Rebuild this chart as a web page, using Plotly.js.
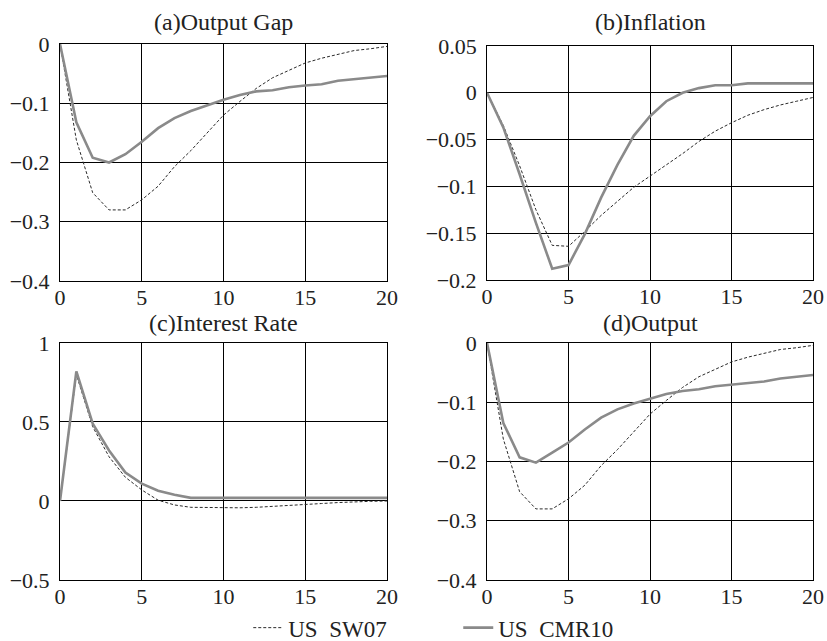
<!DOCTYPE html>
<html>
<head>
<meta charset="utf-8">
<script src="https://cdn.plot.ly/plotly-3.0.1.min.js"></script>
<style>
  html, body { margin: 0; padding: 0; background: #fff; }
  #chart { width: 827px; height: 641px; }
</style>
</head>
<body>
<div id="chart"></div>
<script>
// Impulse responses over 20 quarters, two model estimates
const horizon = [0,1,2,3,4,5,6,7,8,9,10,11,12,13,14,15,16,17,18,19,20];

const gapSW07   = [0,-0.162,-0.251,-0.280,-0.280,-0.263,-0.240,-0.207,-0.180,-0.150,-0.120,-0.097,-0.075,-0.057,-0.044,-0.032,-0.024,-0.017,-0.011,-0.008,-0.004];
const gapCMR10  = [0,-0.132,-0.192,-0.200,-0.186,-0.165,-0.142,-0.125,-0.113,-0.103,-0.094,-0.086,-0.080,-0.078,-0.073,-0.070,-0.068,-0.062,-0.059,-0.056,-0.054];

const inflSW07  = [0,-0.035,-0.078,-0.125,-0.163,-0.164,-0.148,-0.131,-0.116,-0.101,-0.089,-0.077,-0.065,-0.052,-0.041,-0.032,-0.024,-0.018,-0.013,-0.009,-0.005];
const inflCMR10 = [0,-0.037,-0.087,-0.139,-0.188,-0.184,-0.151,-0.112,-0.077,-0.046,-0.025,-0.009,0,0.005,0.008,0.008,0.010,0.010,0.010,0.010,0.010];

const rateSW07  = [0,0.80,0.47,0.28,0.15,0.07,0.005,-0.025,-0.040,-0.042,-0.043,-0.043,-0.040,-0.035,-0.030,-0.022,-0.016,-0.010,-0.005,-0.002,0];
const rateCMR10 = [0,0.82,0.49,0.32,0.18,0.11,0.065,0.040,0.020,0.020,0.020,0.020,0.020,0.020,0.020,0.020,0.020,0.020,0.020,0.020,0.020];

const outSW07   = [0,-0.162,-0.251,-0.280,-0.280,-0.263,-0.240,-0.207,-0.180,-0.150,-0.120,-0.097,-0.075,-0.057,-0.044,-0.032,-0.024,-0.017,-0.011,-0.008,-0.004];
const outCMR10  = [0,-0.135,-0.193,-0.202,-0.185,-0.168,-0.146,-0.126,-0.112,-0.102,-0.094,-0.086,-0.081,-0.078,-0.073,-0.070,-0.068,-0.065,-0.060,-0.057,-0.054];

const panelTitles = ["(a)Output Gap", "(b)Inflation", "(c)Interest Rate", "(d)Output"];
const seriesNames = ["US\u00a0\u00a0SW07", "US\u00a0\u00a0CMR10"];

const xTicks = [0, 5, 10, 15, 20];
const xTickText = ["0", "5", "10", "15", "20"];
const gapTicks = [0, -0.1, -0.2, -0.3, -0.4];
const gapTickText = ["0", "\u22120.1", "\u22120.2", "\u22120.3", "\u22120.4"];
const inflTicks = [0.05, 0, -0.05, -0.1, -0.15, -0.2];
const inflTickText = ["0.05", "0", "\u22120.05", "\u22120.1", "\u22120.15", "\u22120.2"];
const rateTicks = [1, 0.5, 0, -0.5];
const rateTickText = ["1", "0.5", "0", "\u22120.5"];

const FONT = "'Liberation Serif', 'Times New Roman', serif";
const dashStyle = { color: "#2a2a2a", width: 1, dash: "3px,2px" };
const solidStyle = { color: "#8a8a8a", width: 2.6 };

const panels = [
  { sw: gapSW07,  cmr: gapCMR10,  xa: "x",  ya: "y"  },
  { sw: inflSW07, cmr: inflCMR10, xa: "x2", ya: "y2" },
  { sw: rateSW07, cmr: rateCMR10, xa: "x3", ya: "y3" },
  { sw: outSW07,  cmr: outCMR10,  xa: "x4", ya: "y4" }
];

const traces = [];
panels.forEach((p, i) => {
  traces.push({
    x: horizon, y: p.sw, xaxis: p.xa, yaxis: p.ya, type: "scatter", mode: "lines",
    line: dashStyle, name: seriesNames[0], showlegend: i === 0, legendrank: 1
  });
  traces.push({
    x: horizon, y: p.cmr, xaxis: p.xa, yaxis: p.ya, type: "scatter", mode: "lines",
    line: solidStyle, name: seriesNames[1], showlegend: i === 0, legendrank: 2
  });
});

const tickFont = { family: FONT, size: 22, color: "#222" };

function xAxis(domain, anchor) {
  return {
    domain: domain, anchor: anchor, range: [0, 20],
    tickmode: "array", tickvals: xTicks, ticktext: xTickText,
    showgrid: true, gridcolor: "#000", gridwidth: 1,
    zeroline: false, showline: true, linecolor: "#000", linewidth: 1, mirror: true,
    ticks: "", ticklabelstandoff: -3, automargin: false,
    tickfont: tickFont
  };
}
function yAxis(domain, anchor, range, vals, text) {
  return {
    domain: domain, anchor: anchor, range: range,
    tickmode: "array", tickvals: vals, ticktext: text,
    showgrid: true, gridcolor: "#000", gridwidth: 1,
    zeroline: false, showline: true, linecolor: "#000", linewidth: 1, mirror: true,
    ticks: "", ticklabelstandoff: 5, automargin: false,
    tickfont: tickFont
  };
}

const botY = [0, 0.4422];
const leftX = [0, 0.4343];
const rightX = [0.5671, 1];

const titleStyle = { family: FONT, size: 24, color: "#222" };
const layout = {
  width: 827, height: 641,
  margin: { l: 60, r: 14, t: 44, b: 61, autoexpand: false },
  paper_bgcolor: "#fff", plot_bgcolor: "#fff",
  showlegend: true,
  legend: {
    orientation: "h", x: 0.25, xanchor: "left", y: -0.089, yanchor: "middle",
    font: { family: FONT, size: 23, color: "#222" },
    bgcolor: "rgba(0,0,0,0)", borderwidth: 0,
    entrywidth: 165, entrywidthmode: "pixels", traceorder: "normal"
  },
  xaxis:  xAxis(leftX, "y"),
  yaxis:  yAxis([0.5578, 1], "x", [-0.4, 0], gapTicks, gapTickText),
  xaxis2: xAxis(rightX, "y2"),
  yaxis2: yAxis([0.5597, 0.9963], "x2", [-0.2, 0.05], inflTicks, inflTickText),
  xaxis3: xAxis(leftX, "y3"),
  yaxis3: yAxis(botY, "x3", [-0.5, 1], rateTicks, rateTickText),
  xaxis4: xAxis(rightX, "y4"),
  yaxis4: yAxis(botY, "x4", [-0.4, 0], gapTicks, gapTickText),
  annotations: [
    { text: panelTitles[0], xref: "paper", yref: "paper", x: 0.2172, y: 1.041, xanchor: "center", yanchor: "middle", showarrow: false, font: titleStyle },
    { text: panelTitles[1], xref: "paper", yref: "paper", x: 0.7836, y: 1.041, xanchor: "center", yanchor: "middle", showarrow: false, font: titleStyle },
    { text: panelTitles[2], xref: "paper", yref: "paper", x: 0.2172, y: 0.4795, xanchor: "center", yanchor: "middle", showarrow: false, font: titleStyle },
    { text: panelTitles[3], xref: "paper", yref: "paper", x: 0.7836, y: 0.4795, xanchor: "center", yanchor: "middle", showarrow: false, font: titleStyle }
  ]
};

Plotly.newPlot("chart", traces, layout, { staticPlot: true, displayModeBar: false });
</script>
</body>
</html>
